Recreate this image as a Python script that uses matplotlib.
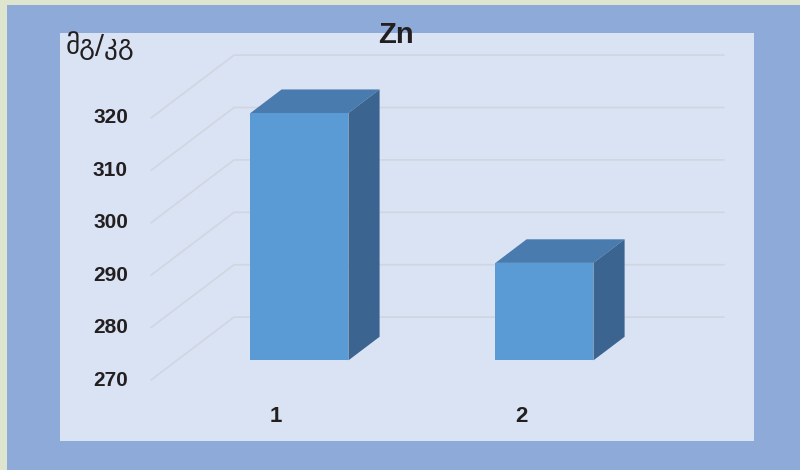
import matplotlib
matplotlib.use('Agg')
import matplotlib.pyplot as plt
from matplotlib.patches import Rectangle, Polygon

# data
categories = ['1', '2']
values = [317.2, 288.6]
yticks = [270, 280, 290, 300, 310, 320]
title = 'Zn'
unit_label = 'მგ/კგ'

# colours
green_bg = '#dde5cf'
frame_blue = '#8eaad8'
panel = '#dae3f3'
grid_col = '#d0d6e1'
front_col = '#5b9bd5'
top_col = '#4a7bae'
side_col = '#3b6590'
txt_col = '#231f20'
num_font = 'Liberation Sans'

base = 270          # floor value
bar_w = 0.4         # bar width in category units
depth_x = 0.339     # oblique depth offset (x, category units)
depth_y = 12.0      # oblique depth offset (y, value units)
f0, f1 = 0.3125, 0.6875   # bar front/back position in the depth

fig = plt.figure(figsize=(8, 4.7), dpi=100)
fig.patch.set_facecolor(green_bg)
fig.patches.append(Rectangle((7/800, 0), 1, 1 - 5/470, transform=fig.transFigure,
                             facecolor=frame_blue, edgecolor='none', zorder=-2))
fig.patches.append(Rectangle((60/800, 29/470), 694/800, 408/470, transform=fig.transFigure,
                             facecolor=panel, edgecolor='none', zorder=-1))

ax = fig.add_axes([60/800, 29/470, 694/800, 408/470])
ax.set_xlim(0.1286, 2.9612)
ax.set_ylim(258.36, 336.22)
ax.set_axis_off()

x0, x1 = 0.5, len(categories) + 0.5

# walls / grid: diagonal on the side wall, then flat along the back wall
for v in yticks:
    ax.plot([x0, x0 + depth_x, x1 + depth_x], [v, v + depth_y, v + depth_y],
            color=grid_col, lw=1.2, solid_capstyle='round', zorder=1)
    ax.text(x0 - 0.094, v, str(v), ha='right', va='center', fontsize=15,
            fontweight='bold', family=num_font, color=txt_col)

# 3d-looking bars (oblique projection)
for i, (cat, val) in enumerate(zip(categories, values)):
    c = i + 1
    ox, oy = f0 * depth_x, f0 * depth_y
    dx, dy = (f1 - f0) * depth_x, (f1 - f0) * depth_y
    l, r = c - bar_w / 2 + ox, c + bar_w / 2 + ox
    b, t = base + oy, val + oy
    front = Polygon([(l, b), (r, b), (r, t), (l, t)], closed=True,
                    facecolor=front_col, edgecolor='none', zorder=3)
    top = Polygon([(l, t), (r, t), (r + dx, t + dy), (l + dx, t + dy)], closed=True,
                  facecolor=top_col, edgecolor='none', zorder=3)
    side = Polygon([(r, b), (r + dx, b + dy), (r + dx, t + dy), (r, t)], closed=True,
                   facecolor=side_col, edgecolor='none', zorder=3)
    for p in (front, top, side):
        ax.add_patch(p)
    ax.text(c + 0.01, base - 6.9, cat, ha='center', va='center', fontsize=16,
            fontweight='bold', family=num_font, color=txt_col)

fig.text(396/800, 1 - 35/470, title, ha='center', va='center', fontsize=21,
         fontweight='bold', family=num_font, color=txt_col)
fig.text(66/800, 1 - 46/470, unit_label, ha='left', va='center', fontsize=19.5,
         family='DejaVu Sans', color=txt_col)

fig.savefig('out.png', dpi=100, facecolor=fig.get_facecolor())
